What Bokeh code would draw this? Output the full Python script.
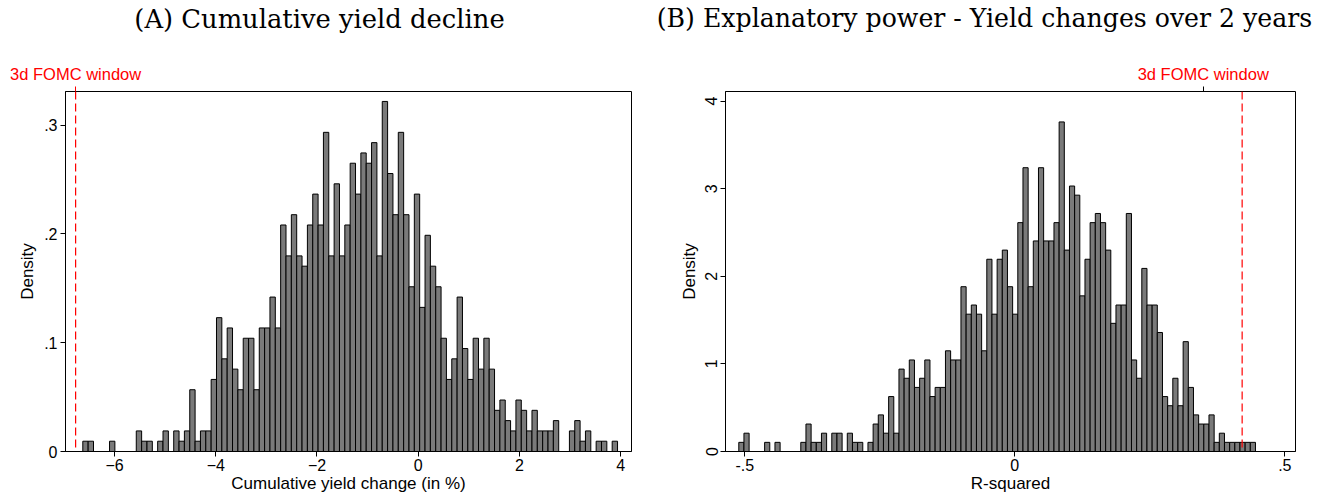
from bokeh.plotting import figure
from bokeh.models import Span, LinearAxis, FixedTicker, Range1d
from bokeh.layouts import row, column
from bokeh.core.properties import value
from bokeh.embed import file_html
from bokeh.resources import INLINE

# ---------------- data ----------------
n_obs = 1000

# Panel A: cumulative yield change (in %), 100 bins
a_bin_start = -6.628
a_bin_width = 0.10567
a_counts = [1, 1, 0, 0, 0, 1, 0, 0, 0, 0,
            2, 1, 1, 0, 1, 2, 0, 2, 1, 2,
            6, 1, 2, 2, 7, 13, 9, 12, 8, 6,
            11, 11, 6, 12, 12, 15, 12, 22, 19, 23,
            19, 18, 22, 25, 22, 31, 19, 26, 19, 22,
            28, 25, 29, 28, 30, 19, 34, 27, 23, 31,
            23, 16, 25, 14, 21, 18, 16, 11, 7, 9,
            15, 10, 7, 11, 8, 11, 8, 4, 5, 3,
            2, 5, 4, 2, 4, 2, 2, 2, 3, 0,
            0, 2, 3, 1, 2, 0, 1, 1, 0, 1]
a_window = -6.77
a_window_label_pos = -6.77
a_xticks = [-6, -4, -2, 0, 2, 4]
a_yticks = [0, 0.1, 0.2, 0.3]
a_ytick_labels = ["0", ".1", ".2", ".3"]
a_title = "(A) Cumulative yield decline"
a_xlabel = "Cumulative yield change (in %)"

# Panel B: R-squared, 100 bins
b_bin_start = -0.5111
b_bin_width = 0.009568
b_counts = [1, 2, 0, 0, 0, 1, 0, 1, 0, 0,
            0, 0, 1, 3, 1, 1, 2, 0, 2, 2,
            0, 2, 1, 1, 0, 1, 3, 4, 2, 6,
            2, 9, 8, 10, 7, 8, 10, 6, 7, 7,
            11, 10, 10, 18, 15, 16, 15, 11, 21, 15,
            21, 22, 18, 15, 25, 31, 18, 23, 31, 23,
            23, 25, 36, 22, 29, 28, 17, 21, 25, 26,
            25, 22, 14, 16, 16, 26, 10, 8, 20, 16,
            16, 13, 6, 5, 8, 5, 12, 7, 4, 3,
            3, 4, 1, 2, 1, 1, 1, 1, 1, 1]
b_window = 0.421
b_window_label_pos = 0.349
b_xticks = [-0.5, 0, 0.5]
b_xtick_labels = ["-.5", "0", ".5"]
b_yticks = [0, 1, 2, 3, 4]
b_title = "(B) Explanatory power - Yield changes over 2 years"
b_xlabel = "R-squared"

window_text = "3d FOMC window"

SANS = "Liberation Sans"
SERIF = "DejaVu Serif"

TITLE_H = 36
MAIN_H = 502 - TITLE_H


def panel(width, x_range, y_range, borders, start, bw, counts, window, label_pos,
          tick_color, xticks, xtick_labels, yticks, ytick_labels, y_orient, xlabel):
    p = figure(width=width, height=MAIN_H, x_range=Range1d(*x_range), y_range=Range1d(*y_range),
               output_backend="svg", toolbar_location=None,
               min_border_left=borders[0], min_border_right=borders[1],
               min_border_top=borders[2], min_border_bottom=borders[3])
    p.background_fill_color = "white"
    p.border_fill_color = "white"
    p.outline_line_color = "black"
    p.outline_line_width = 1
    p.xgrid.visible = False
    p.ygrid.visible = False

    left = [start + i * bw for i in range(len(counts))]
    right = [start + (i + 1) * bw for i in range(len(counts))]
    dens = [c / (n_obs * bw) for c in counts]
    p.quad(left=left, right=right, top=dens, bottom=0,
           fill_color="#7a7a7a", line_color="black", line_width=1)

    p.add_layout(Span(location=window, dimension="height", line_color="red",
                      line_width=1.2, line_dash="8 4"))

    for ax in (p.xaxis[0], p.yaxis[0]):
        ax.axis_line_color = "black"
        ax.major_tick_line_color = "black"
        ax.major_tick_in = 0
        ax.major_tick_out = 5
        ax.minor_tick_line_color = None
        ax.major_label_text_font = SANS
        ax.major_label_text_font_size = "16px"
        ax.major_label_text_color = "black"
        ax.axis_label_text_font = SANS
        ax.axis_label_text_font_size = "17px"
        ax.axis_label_text_font_style = "normal"
        ax.axis_label_text_color = "black"

    p.xaxis.ticker = FixedTicker(ticks=xticks)
    if xtick_labels is not None:
        p.xaxis.major_label_overrides = {t: l for t, l in zip(xticks, xtick_labels)}
    p.xaxis.axis_label = xlabel
    p.xaxis.major_label_standoff = 2
    p.xaxis.axis_label_standoff = 0

    p.yaxis.ticker = FixedTicker(ticks=yticks)
    if ytick_labels is not None:
        p.yaxis.major_label_overrides = {t: l for t, l in zip(yticks, ytick_labels)}
    p.yaxis.axis_label = "Density"
    p.yaxis.major_label_orientation = y_orient
    p.yaxis.major_label_standoff = 3
    p.yaxis.axis_label_standoff = 4

    top = LinearAxis(ticker=FixedTicker(ticks=[label_pos]),
                     major_label_overrides={label_pos: window_text})
    top.axis_line_color = None
    top.major_tick_line_color = tick_color
    top.major_tick_in = 0
    top.major_tick_out = 5
    top.minor_tick_line_color = None
    top.major_label_text_color = "red"
    top.major_label_text_font = SANS
    top.major_label_text_font_size = "16.5px"
    top.major_label_standoff = 4
    p.add_layout(top, "above")
    return p


# title strip (pixel-coordinate canvas holding the two panel titles)
t = figure(width=1325, height=TITLE_H, x_range=Range1d(0, 1325), y_range=Range1d(0, TITLE_H),
           output_backend="svg", toolbar_location=None,
           min_border_left=0, min_border_right=0, min_border_top=0, min_border_bottom=0)
t.axis.visible = False
t.xgrid.visible = False
t.ygrid.visible = False
t.outline_line_color = None
t.background_fill_color = "white"
t.border_fill_color = "white"
t.text(x=[319], y=[TITLE_H - 18], text=[a_title], text_font=value(SERIF),
       text_font_size="25.8px", text_align="center", text_baseline="middle", text_color="black")
t.text(x=[984], y=[TITLE_H - 18], text=[b_title], text_font=value(SERIF),
       text_font_size="25.2px", text_align="center", text_baseline="middle", text_color="black")

top_border = 91 - TITLE_H
pa = panel(655, (-6.97, 4.215), (0, 0.3309), (65, 24, top_border, 51),
           a_bin_start, a_bin_width, a_counts, a_window, a_window_label_pos, "red",
           a_xticks, None, a_yticks, a_ytick_labels, "horizontal", a_xlabel)

pb = panel(670, (-0.5357, 0.5198), (0, 4.11), (70, 30, top_border, 51),
           b_bin_start, b_bin_width, b_counts, b_window, b_window_label_pos, "black",
           b_xticks, b_xtick_labels, b_yticks, None, "vertical", b_xlabel)

layout = column(t, row(pa, pb))
open("out.html", "w").write(file_html(layout, INLINE))
